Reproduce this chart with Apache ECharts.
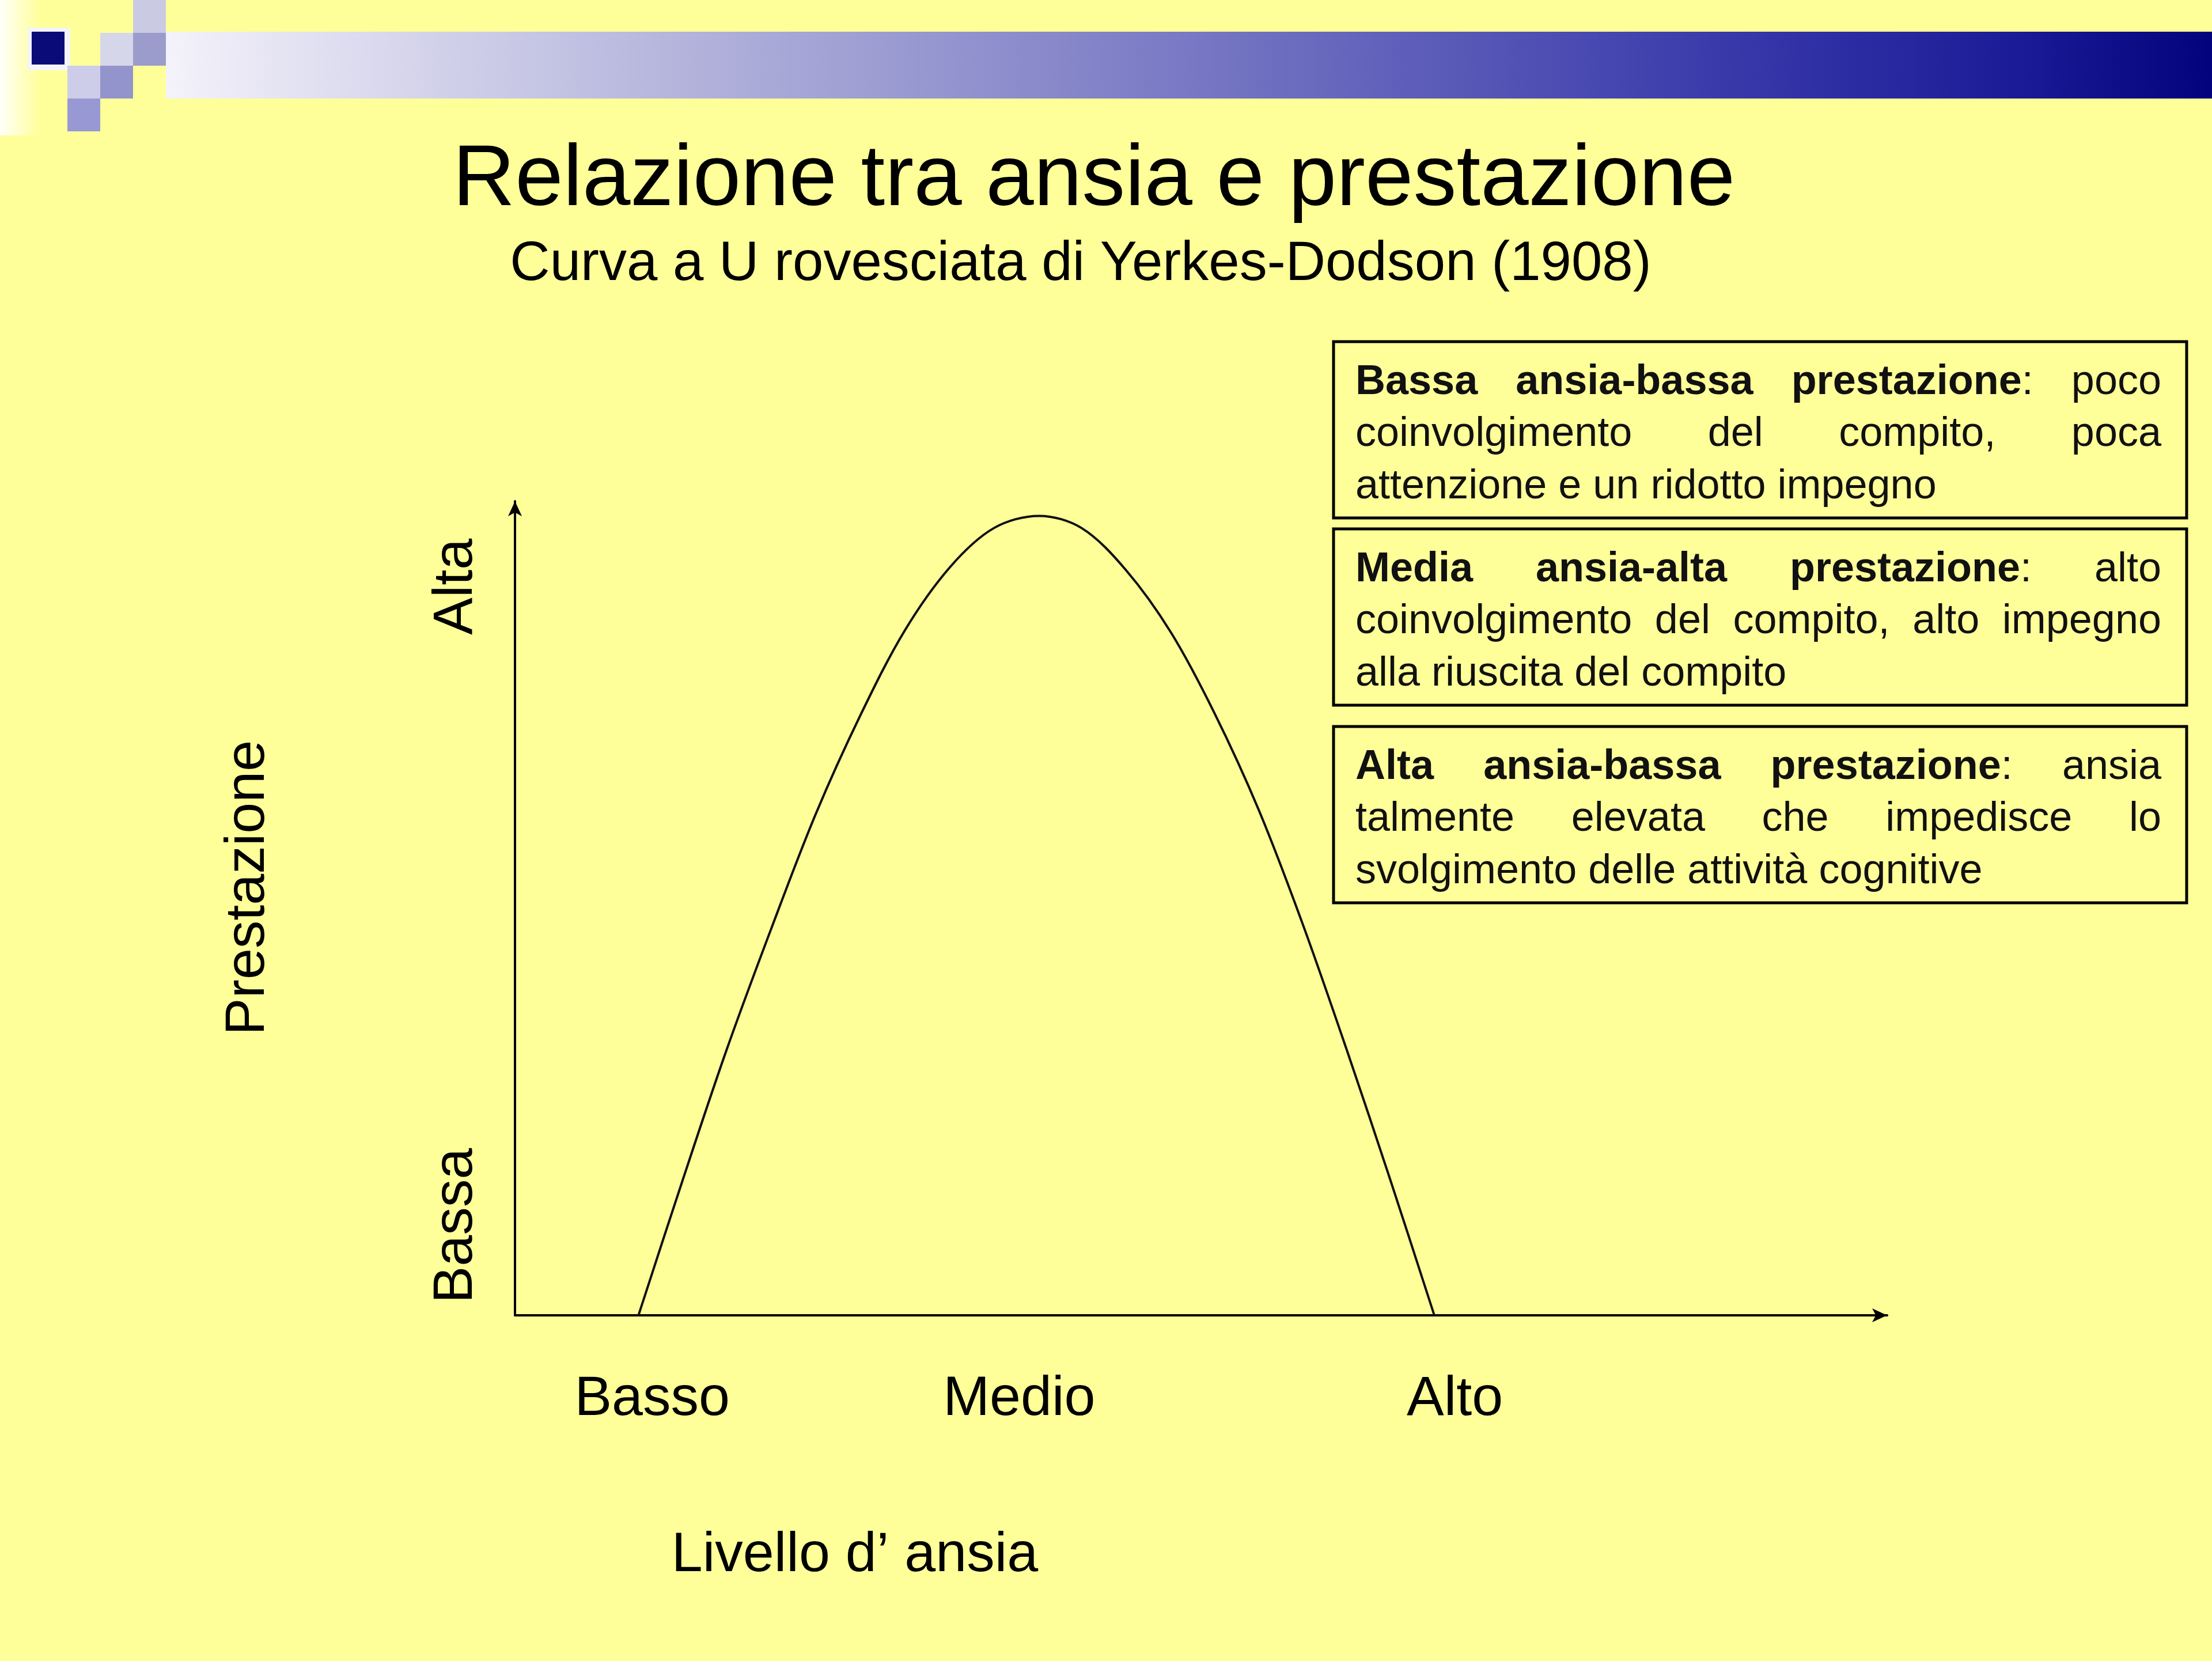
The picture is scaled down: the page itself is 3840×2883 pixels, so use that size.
<!DOCTYPE html>
<html>
<head>
<meta charset="utf-8">
<script src="https://cdn.jsdelivr.net/npm/echarts@6/dist/echarts.min.js"></script>
<style>
html, body { margin: 0; padding: 0; background: #ffff99; }
#main { width: 3840px; height: 2883px; }
</style>
</head>
<body>
<div id="main"></div>
<script>
// curva a U rovesciata (0-100 su entrambi gli assi)
var ansia = [9.0, 12.2, 15.4, 18.7, 21.9, 25.2, 28.4, 31.7, 34.9, 38.2, 41.3, 44.5, 47.8, 51.0, 54.2, 57.4, 60.6, 63.8, 67.0];
var prestazione = [0, 16.5, 32.5, 47.6, 61.5, 73.8, 84.1, 91.9, 96.7, 98.2, 96.7, 91.6, 83.9, 73.9, 62.1, 48.1, 32.7, 16.6, 0];

// etichette degli assi
var xLabels = ['Basso', 'Medio', 'Alto'];
var xLabelValues = [10, 36.75, 68.5];
var yLabels = ['Bassa', 'Alta'];
var yLabelValues = [11, 89.5];

var titolo = 'Relazione tra ansia e prestazione';
var sottotitolo = 'Curva a U rovesciata di Yerkes-Dodson (1908)';
var nomeX = 'Livello d\u2019 ansia';
var nomeY = 'Prestazione';

// riquadri di testo (**grassetto**)
var box1 = ['**Bassa** **ansia-bassa** **prestazione**: poco', 'coinvolgimento del compito, poca', 'attenzione e un ridotto impegno'];
var box2 = ['**Media** **ansia-alta** **prestazione**: alto', 'coinvolgimento del compito, alto impegno', 'alla riuscita del compito'];
var box3 = ['**Alta** **ansia-bassa** **prestazione**: ansia', 'talmente elevata che impedisce lo', 'svolgimento delle attivit\u00e0 cognitive'];

var FONT = '"Liberation Sans", Arial, sans-serif';
var BOX_FS = 72;

var chart = echarts.init(document.getElementById('main'));

var ctx = document.createElement('canvas').getContext('2d');
function fontStr(bold) {
  return (bold ? 'bold ' : '') + BOX_FS + 'px ' + FONT;
}
function textW(t, bold) {
  ctx.font = fontStr(bold);
  return ctx.measureText(t).width;
}
// "**a**:" -> [{t:'a',b:true},{t:':',b:false}]
function parseWord(w) {
  var segs = [];
  w.split('**').forEach(function (p, i) {
    if (p) segs.push({ t: p, b: i % 2 == 1 });
  });
  return segs;
}

var graphics = [];

// decorazione in alto
graphics.push({
  type: 'rect', shape: { x: 0, y: 0, width: 70, height: 235 },
  style: { fill: new echarts.graphic.LinearGradient(0, 0, 1, 0, [
    { offset: 0, color: 'rgba(255,255,255,0.95)' },
    { offset: 1, color: 'rgba(255,255,255,0)' }
  ]) }
});
graphics.push({
  type: 'rect', shape: { x: 288, y: 55, width: 3552, height: 116 },
  style: { fill: new echarts.graphic.LinearGradient(0, 0, 1, 0, [
    { offset: 0, color: '#f4f2fa' },
    { offset: 0.25, color: '#b4b4dc' },
    { offset: 0.5, color: '#7878c4' },
    { offset: 0.75, color: '#3c3cac' },
    { offset: 0.9, color: '#1c1c98' },
    { offset: 1, color: '#03037e' }
  ]) }
});
var squares = [
  [55, 55, '#0a0a78'],
  [231, 0, '#cacae2'], [231, 57, '#9c9ccc'],
  [174, 57, '#d6d6ea'], [174, 114, '#9494cc'],
  [117, 114, '#cdcdea'], [117, 171, '#9898d4']
];
graphics.push({ type: 'rect', shape: { x: 48, y: 48, width: 74, height: 74 }, style: { fill: '#f4f4fc' } });
squares.forEach(function (s) {
  graphics.push({ type: 'rect', shape: { x: s[0], y: s[1], width: 57, height: 57 }, style: { fill: s[2] } });
});

// titoli
graphics.push({
  type: 'text', x: 1899, y: 315,
  style: { text: titolo, font: '150px ' + FONT, fill: '#000', align: 'center', verticalAlign: 'middle' }
});
graphics.push({
  type: 'text', x: 1876, y: 460,
  style: { text: sottotitolo, font: '96px ' + FONT, fill: '#000', align: 'center', verticalAlign: 'middle' }
});
// nomi degli assi
graphics.push({
  type: 'text', x: 1484, y: 2700,
  style: { text: nomeX, font: '97px ' + FONT, fill: '#000', align: 'center', verticalAlign: 'middle' }
});
graphics.push({
  type: 'text', x: 431, y: 1541, rotation: Math.PI / 2,
  style: { text: nomeY, font: '97px ' + FONT, fill: '#000', align: 'center', verticalAlign: 'middle' }
});

// riquadri con testo giustificato
var BOX_X = 2315, BOX_W = 1481, BOX_H = 306;
var TEXT_X = 2353, TEXT_W = 1399;
var LINE_H = 90.5;
[[box1, 593], [box2, 918], [box3, 1261]].forEach(function (b) {
  var lines = b[0], top = b[1];
  graphics.push({
    type: 'rect', shape: { x: BOX_X, y: top, width: BOX_W, height: BOX_H },
    style: { fill: 'none', stroke: '#000', lineWidth: 5 }
  });
  lines.forEach(function (line, li) {
    var words = line.split(' ').map(parseWord);
    var widths = words.map(function (segs) {
      return segs.reduce(function (s, g) { return s + textW(g.t, g.b); }, 0);
    });
    var total = widths.reduce(function (a, c) { return a + c; }, 0);
    var gap = li < lines.length - 1 ? (TEXT_W - total) / (words.length - 1) : textW(' ', false);
    var x = TEXT_X;
    var baseY = top + 96 + li * LINE_H;
    words.forEach(function (segs) {
      segs.forEach(function (g) {
        graphics.push({
          type: 'text', x: x, y: baseY - 0.347 * BOX_FS,
          style: { text: g.t, font: fontStr(g.b), fill: '#111', align: 'left', verticalAlign: 'middle' }
        });
        x += textW(g.t, g.b);
      });
      x += gap;
    });
  });
});

function pick(vals, labels) {
  return function (v) {
    for (var i = 0; i < vals.length; i++) {
      if (Math.abs(v - vals[i]) < 1e-6) return labels[i];
    }
    return '';
  };
}

var option = {
  backgroundColor: '#ffff99',
  animation: false,
  grid: { left: 894, top: 870, width: 2382, height: 1413, containLabel: false, outerBoundsMode: 'none' },
  xAxis: {
    type: 'value', min: 0, max: 100, interval: 0.25,
    axisLine: { show: true, symbol: ['none', 'arrow'], symbolSize: [18, 26], lineStyle: { color: '#000', width: 4 } },
    axisTick: { show: false },
    splitLine: { show: false },
    axisLabel: {
      formatter: pick(xLabelValues, xLabels), margin: 98,
      color: '#000', fontSize: 97, fontFamily: FONT, hideOverlap: false
    }
  },
  yAxis: {
    type: 'value', min: 0, max: 100, interval: 0.5,
    axisLine: { show: true, symbol: ['none', 'arrow'], symbolSize: [18, 26], lineStyle: { color: '#000', width: 4 } },
    axisTick: { show: false },
    splitLine: { show: false },
    axisLabel: {
      formatter: pick(yLabelValues, yLabels), rotate: 90, margin: 53,
      color: '#000', fontSize: 97, fontFamily: FONT, hideOverlap: false
    }
  },
  series: [{
    type: 'line',
    data: ansia.map(function (a, i) { return [a, prestazione[i]]; }),
    smooth: 0.33,
    showSymbol: false,
    lineStyle: { color: '#111', width: 4 }
  }],
  graphic: graphics
};

chart.setOption(option);
</script>
</body>
</html>
